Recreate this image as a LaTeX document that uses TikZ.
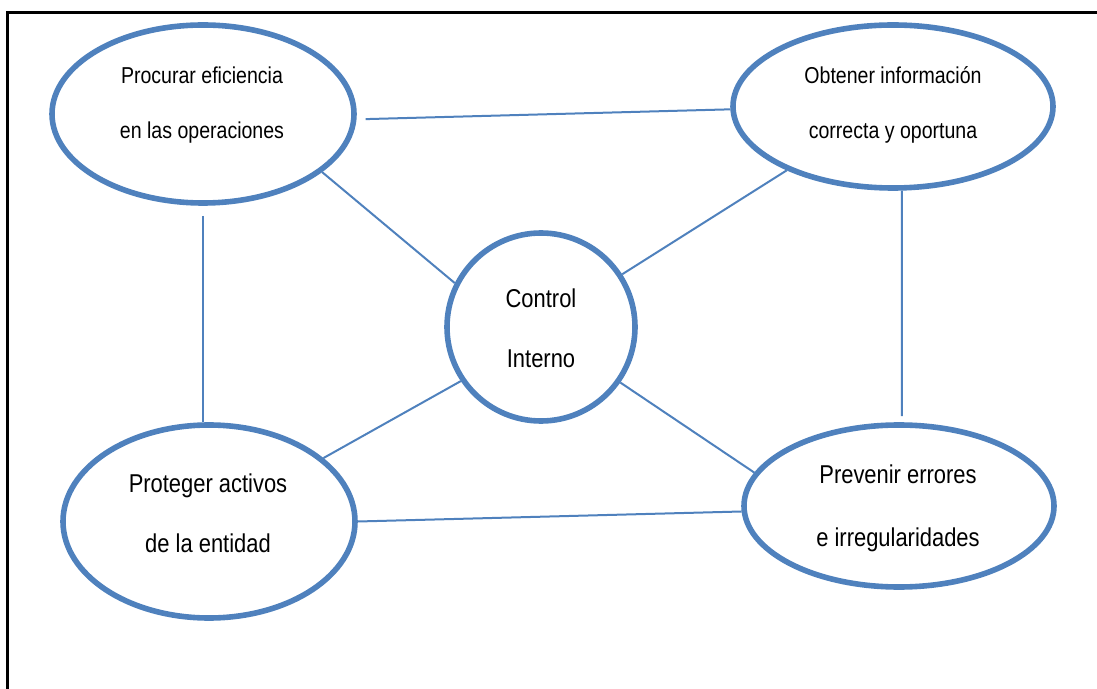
\documentclass[tikz,border=0pt]{standalone}
\usepackage{fontspec}
\setmainfont{Liberation Sans}[FakeStretch=0.85]
\usetikzlibrary{shapes.geometric}
\definecolor{azul}{HTML}{4F81BD}
\tikzstyle{elipse}=[draw=azul, line width=2.8pt, ellipse, inner sep=0pt]
\tikzstyle{enlace}=[draw=azul, line width=1pt]
\tikzstyle{texto}=[align=center, font=\fontsize{11.5}{27.5}\selectfont]
\tikzstyle{textog}=[align=center, font=\fontsize{12.9}{30}\selectfont]

\begin{document}
\begin{tikzpicture}[x=0.5pt,y=-0.5pt]
	\useasboundingbox (0,0) rectangle (1097,689);
	\draw[line width=1.5pt] (7,689) -- (7,12.5) -- (1097,12.5);
	% objetivos
	\node[elipse, minimum width=151pt, minimum height=89pt] (ef) at (203,114) {};
	\node[elipse, minimum width=160pt, minimum height=81.5pt] (inf) at (893,106.5) {};
	\node[elipse, minimum width=146pt, minimum height=96.5pt] (act) at (209,521.5) {};
	\node[elipse, minimum width=155pt, minimum height=81pt] (err) at (899,506) {};
	\node[draw=azul, line width=2.8pt, circle, inner sep=0pt, minimum size=94pt] (ci) at (541,327) {};
	% textos
	\node[texto] (efT) at (202,105.5) {Procurar eficiencia\\en las operaciones};
	\node[texto] (infT) at (893,104.5) {Obtener información\\correcta y oportuna};
	\node[textog] (actT) at (208,513) {Proteger activos\\de la entidad};
	\node[textog, font=\fontsize{12.9}{31.5}\selectfont] (errT) at (898,508.5) {Prevenir errores\\e irregularidades};
	\node[textog] (ciT) at (541,328) {Control\\Interno};
	% enlaces
	\draw[enlace, shorten <=4.5pt] (ef.-2) -- (inf.181);
	\draw[enlace] (ef.-26) -- (ci.153);
	\draw[enlace] (inf.211) -- (ci.33);
	\draw[enlace, shorten <=5pt] (ef.south) -- (ef.south |- act.north);
	\draw[enlace, shorten >=3pt] (inf.-84) -- (err.88);
	\draw[enlace] (act.29) -- (ci.214);
	\draw[enlace] (err.167) -- (ci.-35);
	\draw[enlace] (act.0) -- (err.182);
\end{tikzpicture}
\end{document}
